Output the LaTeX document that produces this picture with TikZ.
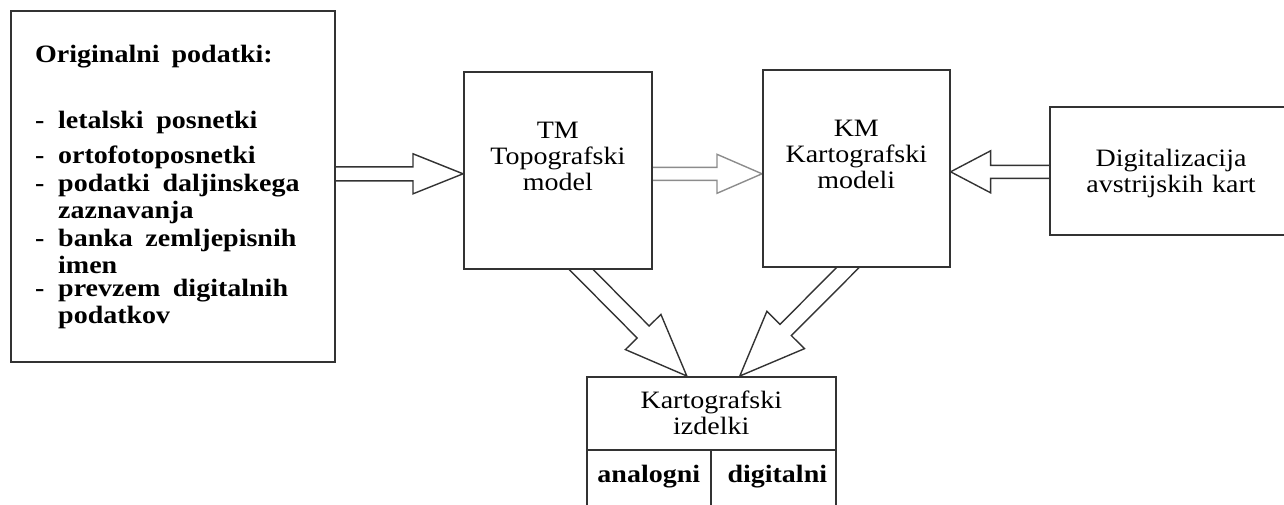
\documentclass[tikz,border=0pt]{standalone}
\usepackage{fontspec}
\setmainfont{Liberation Serif}[FakeStretch=1.12, BoldFeatures={WordSpace=1.8}]
\usetikzlibrary{calc,backgrounds}
\tikzset{
  box/.style={draw=black!80, line width=1.6pt, fill=white, inner sep=0pt},
  txt/.style={font=\fontsize{25}{26}\selectfont, align=center, inner sep=0pt},
  btxt/.style={font=\fontsize{25}{27}\selectfont\bfseries, align=left, inner sep=0pt},
  arr/.style={draw=black!80, line width=1.4pt, line join=miter},
  garr/.style={draw=black!45, line width=1.4pt, line join=miter},
}
% #1 style, #2 start, #3 tip, #4 shaft half width, #5 head half width, #6 head length
\newcommand\blockarrow[6]{%
  \coordinate (ba-m) at ($(#3)!#6!(#2)$);
  \draw[#1] ($(#2)!#4!90:(#3)$) -- ($(ba-m)!#4!90:(#3)$) -- ($(ba-m)!#5!90:(#3)$)
    -- (#3) -- ($(ba-m)!#5!-90:(#3)$) -- ($(ba-m)!#4!-90:(#3)$) -- ($(#2)!#4!-90:(#3)$);
}
\begin{document}
\begin{tikzpicture}[x=1pt,y=-1pt]
\useasboundingbox (0,0) rectangle (1284,504);
\clip (0,0) rectangle (1284,504);
% boxes
\node[box, anchor=north west, minimum width=324pt, minimum height=351pt] (orig) at (10,10) {};
\node[box, anchor=north west, minimum width=188pt, minimum height=197pt] (tm) at (463,71) {};
\node[box, anchor=north west, minimum width=187pt, minimum height=197pt] (km) at (762,69) {};
\node[box, anchor=north west, minimum width=244pt, minimum height=128pt] (dig) at (1049,106) {};
\node[box, txt, anchor=north west, minimum width=249pt, minimum height=73pt] (prod) at (586,376) {Kartografski\\izdelki};
\node[box, anchor=north west, minimum width=124pt, minimum height=80pt] (an) at (586,449) {};
\node[box, anchor=north west, minimum width=125pt, minimum height=80pt] (dg) at (710,449) {};
% texts
\node[btxt, anchor=base west] (title) at (35,62) {Originalni\hspace{12pt}podatki:};
\node[btxt, anchor=north west] (items) at (35,111) {%
\makebox[23pt][l]{-}letalski posnetki\\[8pt]
\makebox[23pt][l]{-}ortofotoposnetki\\[1pt]
\makebox[23pt][l]{-}podatki daljinskega\\
\hspace*{23pt}zaznavanja\\[1pt]
\makebox[23pt][l]{-}banka zemljepisnih\\
\hspace*{23pt}imen\\[-4pt]
\makebox[23pt][l]{-}prevzem digitalnih\\
\hspace*{23pt}podatkov};
\node[txt, anchor=north] (tmt) at ($(tm.north)+(0,51)$) {TM\\Topografski\\model};
\node[txt, anchor=north] (kmt) at ($(km.north)+(0,51)$) {KM\\Kartografski\\modeli};
\node[txt] (digt) at (1171,173) {Digitalizacija\\avstrijskih\hspace{9pt}kart};
\node[btxt, anchor=base] (ant) at ($(an.north)+(0,33)$) {analogni};
\node[btxt, anchor=base] (dgt) at ($(dg.north)+(4,33)$) {digitalni};
% arrows
\begin{scope}[on background layer]
\coordinate (a1e) at ($(tm.west)+(0,3.5)$);
\coordinate (a1s) at ($(orig.east |- a1e)+(-10,0)$);
\blockarrow{arr}{a1s}{a1e}{7pt}{20pt}{50pt}
\coordinate (a2e) at ($(km.west)+(0,5.5)$);
\coordinate (a2s) at ($(tm.east |- a2e)+(-10,0)$);
\blockarrow{garr}{a2s}{a2e}{6.5pt}{19.5pt}{45pt}
\coordinate (a3e) at ($(km.east)+(0,3.5)$);
\coordinate (a3s) at ($(dig.west |- a3e)+(10,0)$);
\blockarrow{arr}{a3s}{a3e}{6.5pt}{21pt}{40pt}
\coordinate (a4e) at ($(prod.north)+(-24.5,0)$);
\coordinate (a4b) at ($(tm.south)+(23.5,0)$);
\coordinate (a4s) at ($(a4b)!-15pt!(a4e)$);
\blockarrow{arr}{a4s}{a4e}{8.5pt}{25pt}{62pt}
\coordinate (a5e) at ($(prod.north)+(28.5,0)$);
\coordinate (a5b) at ($(km.south)+(-8.5,0)$);
\coordinate (a5s) at ($(a5b)!-15pt!(a5e)$);
\blockarrow{arr}{a5s}{a5e}{8pt}{26.5pt}{65pt}
\end{scope}
\end{tikzpicture}
\end{document}
